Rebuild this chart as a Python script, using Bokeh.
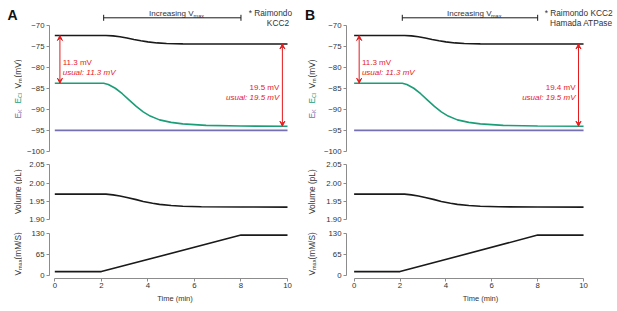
from math import pi
from bokeh.plotting import figure
from bokeh.models import Range1d, FixedTicker, Label, Arrow, VeeHead, TeeHead, NumeralTickFormatter
from bokeh.layouts import row, column
from bokeh.embed import file_html
from bokeh.resources import INLINE

# ---------------- data ----------------
t_vm = [0, 2.2, 2.5, 2.8, 3.1, 3.4, 3.7, 4.0, 4.4, 4.8, 5.5, 7.0, 10.0]
vm = [-72.5, -72.5, -72.58, -72.8, -73.1, -73.45, -73.75, -74.0, -74.25, -74.4, -74.47, -74.5, -74.5]

t_ecl = [0, 2.1, 2.3, 2.6, 2.9, 3.2, 3.5, 3.8, 4.1, 4.5, 5.0, 5.5, 6.5, 8.0, 10.0]
ecl = [-83.8, -83.8, -84.1, -85.0, -86.3, -87.8, -89.3, -90.6, -91.6, -92.5, -93.1, -93.45, -93.8, -93.97, -94.0]

t_ek = [0, 10]
ek = [-95.0, -95.0]

t_vol = [0, 2.2, 2.5, 2.8, 3.1, 3.5, 3.8, 4.2, 4.5, 5.0, 5.5, 6.3, 8.0, 10.0]
vol = [1.970, 1.970, 1.968, 1.965, 1.961, 1.955, 1.950, 1.945, 1.942, 1.939, 1.937, 1.9355, 1.935, 1.9345]

t_vmax = [0, 2.0, 8.0, 10.0]
vmax = [13, 13, 126, 126]

bracket = [2.1, 8.0]          # "Increasing Vmax" interval (min)

ticks_em = [-100, -95, -90, -85, -80, -75, -70]
ticks_vol = [1.90, 1.95, 2.00, 2.05]
ticks_vmax = [0, 65, 130]
ticks_time = [0, 2, 4, 6, 8, 10]

gap_text = {"A": ["11.3 mV", "19.5 mV"], "B": ["11.3 mV", "19.4 mV"]}
usual_text = ["usual: 11.3 mV", "usual: 19.5 mV"]
notes = {"A": ["* Raimondo", "KCC2"], "B": ["* Raimondo KCC2", "Hamada ATPase"]}

# ---------------- styling / layout ----------------
RED = "#e41a1c"; GREEN = "#1b9e77"; PURPLE = "#7570b3"; BLACK = "#1a1a1a"
AXIS = "#8c8c8c"; TXT = "#333333"; FONT = "Liberation Sans"
TOTAL_H = 310

PANELS = {
    "A": dict(strip_left=0, strip_w=22, page_left=22, fig_w=282, border_l=27, border_r=4,
              x0px=54.3, sx=23.27, note_right=[291.5, 288.5], letter_x=7, ylab_x=17),
    "B": dict(strip_left=304, strip_w=16, page_left=320, fig_w=297, border_l=23, border_r=3,
              x0px=350.7, sx=23.2, note_right=[612, 612], letter_x=304.5, ylab_x=311),
}
ROWS = {
    "top": dict(fig_top=0, fig_h=158, frame_top=0, frame_bot=153, va=-70, pa=24.5, vb=-100, pb=151),
    "mid": dict(fig_top=158, fig_h=70, frame_top=159, frame_bot=224, va=2.05, pa=164.3, vb=1.90, pb=219.3),
    "bot": dict(fig_top=228, fig_h=82, frame_top=229, frame_bot=278, va=130, pa=233.3, vb=0, pb=275.3),
}


def xd(px, P):
    return (px - P["x0px"]) / P["sx"]


def yd(py, R):
    return R["va"] + (py - R["pa"]) * (R["vb"] - R["va"]) / (R["pb"] - R["pa"])


def style_axis(ax, bounds, ticks):
    ax.bounds = bounds
    ax.ticker = FixedTicker(ticks=ticks)
    ax.minor_tick_line_color = None
    ax.major_tick_in = 0
    ax.major_tick_out = 3
    ax.axis_line_color = AXIS
    ax.major_tick_line_color = AXIS
    ax.major_label_text_font = FONT
    ax.major_label_text_font_size = "7.8px"
    ax.major_label_text_color = TXT
    ax.major_label_standoff = 2


def make_fig(P, R, xaxis=False):
    fl = P["page_left"] + P["border_l"]
    fr = P["page_left"] + P["fig_w"] - P["border_r"]
    p = figure(width=P["fig_w"], height=R["fig_h"],
               x_range=Range1d(xd(fl, P), xd(fr, P)),
               y_range=Range1d(yd(R["frame_bot"], R), yd(R["frame_top"], R)),
               output_backend="svg", toolbar_location=None,
               min_border_left=P["border_l"], min_border_right=P["border_r"],
               min_border_top=R["frame_top"] - R["fig_top"],
               min_border_bottom=R["fig_top"] + R["fig_h"] - R["frame_bot"],
               x_axis_location="below" if xaxis else None)
    p.outline_line_color = None
    p.xgrid.visible = False
    p.ygrid.visible = False
    return p


def lab(p, x, y, text, size="8px", color=TXT, align="left", baseline="alphabetic",
        angle=0.0, style="normal"):
    p.add_layout(Label(x=x, y=y, text=text, text_font=FONT, text_font_size=size,
                       text_color=color, text_align=align, text_baseline=baseline,
                       angle=angle, text_font_style=style))


def make_strip(P, key):
    # narrow figure holding the panel letter and the y-axis titles (page-pixel coordinates)
    x0, w = P["strip_left"], P["strip_w"]
    s = figure(width=w, height=TOTAL_H, x_range=Range1d(x0, x0 + w), y_range=Range1d(0, TOTAL_H),
               output_backend="svg", toolbar_location=None, min_border=0,
               x_axis_location=None, y_axis_location=None)
    s.outline_line_color = None
    s.xgrid.visible = False
    s.ygrid.visible = False

    def Y(py):
        return TOTAL_H - py

    lab(s, P["letter_x"], Y(6.5), key, size="14px", color="#111111", baseline="top", style="bold")

    bx, sbx = P["ylab_x"], P["ylab_x"] + 2
    pieces = [
        ("E", 118, bx, "8.3px", PURPLE), ("K", 112.4, sbx, "5.5px", PURPLE),
        ("E", 103, bx, "8.3px", GREEN), ("Cl", 97.4, sbx, "5.5px", GREEN),
        ("V", 88, bx, "8.3px", TXT), ("m", 82.4, sbx, "5.5px", TXT),
        ("(mV)", 77, bx, "8.3px", TXT),
        ("Volume (pL)", 213.5, bx, "8.3px", TXT),
        ("V", 275, bx, "8.3px", TXT), ("max", 269.5, sbx, "5.5px", TXT),
        ("(mM/S)", 259, bx, "8.3px", TXT),
    ]
    for txt, py, x, size, col in pieces:
        lab(s, x, Y(py), txt, size=size, color=col, angle=pi / 2)
    return s


def build(key):
    P = PANELS[key]
    RT, RM, RB = ROWS["top"], ROWS["mid"], ROWS["bot"]

    # ---- membrane potentials ----
    p1 = make_fig(P, RT)
    p1.line(t_ek, ek, line_color=PURPLE, line_width=1.6)
    p1.line(t_ecl, ecl, line_color=GREEN, line_width=1.6)
    p1.line(t_vm, vm, line_color=BLACK, line_width=1.6)
    style_axis(p1.yaxis[0], (ticks_em[0], ticks_em[-1]), ticks_em)

    # gap arrows
    xl, xr = 0.22, 9.78
    head = dict(size=5, line_color=RED, fill_color=RED, line_width=1)
    p1.add_layout(Arrow(start=VeeHead(**head), end=VeeHead(**head),
                        x_start=xl, y_start=vm[0], x_end=xl, y_end=ecl[0],
                        line_color=RED, line_width=1))
    p1.add_layout(Arrow(start=VeeHead(**head), end=VeeHead(**head),
                        x_start=xr, y_start=vm[-1], x_end=xr, y_end=ecl[-1],
                        line_color=RED, line_width=1))
    lab(p1, 0.34, yd(61.7, RT), gap_text[key][0], color=RED)
    lab(p1, 0.34, yd(71.7, RT), usual_text[0], color=RED, style="italic")
    lab(p1, 9.65, yd(87.3, RT), gap_text[key][1], color=RED, align="right")
    lab(p1, 9.65, yd(96.5, RT), usual_text[1], color=RED, align="right", style="italic")

    # bracket + title
    yb = yd(17.3, RT)
    tee = dict(size=6, line_color=BLACK, line_width=1)
    p1.add_layout(Arrow(start=TeeHead(**tee), end=TeeHead(**tee),
                        x_start=bracket[0], y_start=yb, x_end=bracket[1], y_end=yb,
                        line_color=BLACK, line_width=1))
    lab(p1, 4.05, yd(12.5, RT), "Increasing V", size="8px")
    lab(p1, 4.05 + 44.5 / P["sx"], yd(15, RT), "max", size="5.5px")

    # notes
    lab(p1, xd(P["note_right"][0], P), yd(12.7, RT), notes[key][0], size="8.3px", align="right")
    lab(p1, xd(P["note_right"][1], P), yd(22.7, RT), notes[key][1], size="8.3px", align="right")

    # ---- volume ----
    p2 = make_fig(P, RM)
    p2.line(t_vol, vol, line_color=BLACK, line_width=1.6)
    style_axis(p2.yaxis[0], (ticks_vol[0], ticks_vol[-1]), ticks_vol)
    p2.yaxis[0].formatter = NumeralTickFormatter(format="0.00")

    # ---- Vmax ----
    p3 = make_fig(P, RB, xaxis=True)
    p3.line(t_vmax, vmax, line_color=BLACK, line_width=1.6)
    style_axis(p3.yaxis[0], (ticks_vmax[0], ticks_vmax[-1]), ticks_vmax)
    xa = p3.xaxis[0]
    style_axis(xa, (ticks_time[0], ticks_time[-1]), ticks_time)
    xa.major_label_standoff = 1
    xa.axis_label = "Time (min)"
    xa.axis_label_text_font = FONT
    xa.axis_label_text_font_size = "7.5px"
    xa.axis_label_text_font_style = "normal"
    xa.axis_label_text_color = TXT
    xa.axis_label_standoff = 3

    return make_strip(P, key), column(p1, p2, p3)


sa, ca = build("A")
sb, cb = build("B")
layout = row(sa, ca, sb, cb)
open("out.html", "w").write(file_html(layout, INLINE))
